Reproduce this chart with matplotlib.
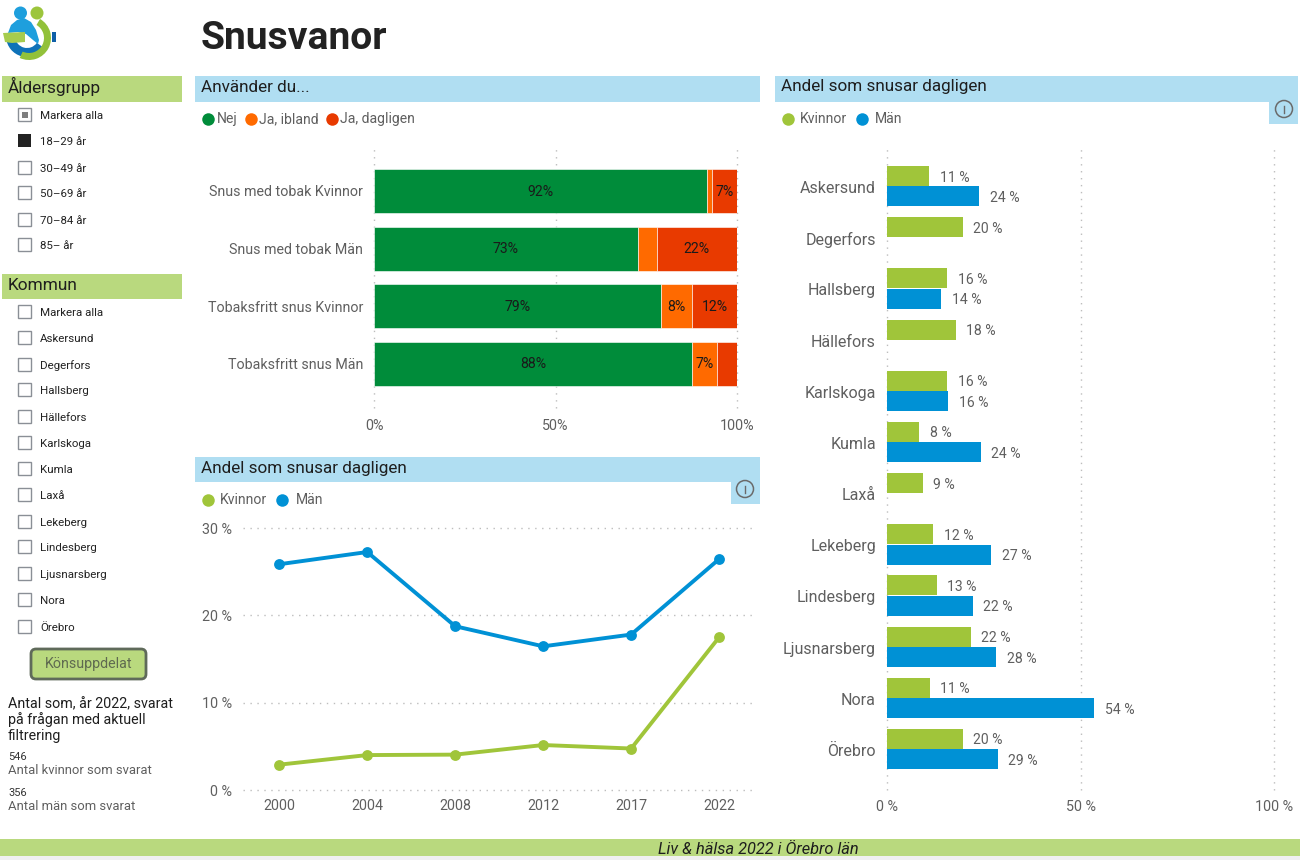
import matplotlib
matplotlib.use("Agg")
import matplotlib.pyplot as plt
from matplotlib.patches import Rectangle, FancyBboxPatch, Circle, Wedge, Polygon

plt.rcParams['font.family'] = ['Roboto', 'DejaVu Sans']

# ---------- data ----------
stack_cats = ["Snus med tobak Kvinnor", "Snus med tobak Män", "Tobaksfritt snus Kvinnor", "Tobaksfritt snus Män"]
stack_nej = [91.6, 72.7, 79.2, 87.6]
stack_ibland = [1.5, 5.2, 8.4, 7.0]
stack_dagligen = [6.9, 22.1, 12.4, 5.4]

years = ["2000", "2004", "2008", "2012", "2017", "2022"]
line_kvinnor = [2.9, 4.0, 4.05, 5.15, 4.75, 17.5]
line_man = [25.85, 27.25, 18.75, 16.45, 17.8, 26.45]

kommuner = ["Askersund", "Degerfors", "Hallsberg", "Hällefors", "Karlskoga", "Kumla", "Laxå",
            "Lekeberg", "Lindesberg", "Ljusnarsberg", "Nora", "Örebro"]
kom_kvinnor = [10.9, 19.6, 15.6, 17.8, 15.6, 8.3, 9.3, 11.9, 12.9, 21.7, 11.1, 19.6]
kom_man = [23.8, None, 14.0, None, 15.8, 24.3, None, 26.9, 22.2, 28.2, 53.6, 28.6]

age_items = ["Markera alla", "18–29 år", "30–49 år", "50–69 år", "70–84 år", "85– år"]
kommun_items = ["Markera alla"] + kommuner

# ---------- colours ----------
GREEN = "#008C3A"; ORANGE = "#FF6A00"; RED = "#E83A00"
LIME = "#A0C53A"; BLUE = "#0091D5"
HEAD_BLUE = "#B0DEF2"; HEAD_LIME = "#B9D97E"
TXT = "#5F5F5F"; DARK = "#1E1E1E"

W, H = 1300, 860
fig = plt.figure(figsize=(13, 8.6), dpi=100, facecolor="white")

def axpx(x0, y0, x1, y1, **kw):
    return fig.add_axes([x0 / W, 1 - y1 / H, (x1 - x0) / W, (y1 - y0) / H], **kw)

def PT(px):
    return px * 0.72

# overlay in pixel coordinates
ov = fig.add_axes([0, 0, 1, 1], zorder=5)
ov.set_xlim(0, W); ov.set_ylim(H, 0); ov.axis("off"); ov.patch.set_alpha(0)

def rect(x0, y0, x1, y1, c, **kw):
    ov.add_patch(Rectangle((x0, y0), x1 - x0, y1 - y0, fc=c, ec="none", **kw))

def t(x, y, s, size, c=TXT, ha="left", va="center", **kw):
    ov.text(x, y + 1, s, fontsize=PT(size), color=c, ha=ha, va=va, **kw)

# title
t(201, 37.5, "Snusvanor", 39, c="#222222", weight="bold")

# logo
rect(52, 32, 56, 42, "#0F5FA8")
ov.add_patch(Wedge((27, 36), 21, 35, 175, width=9, fc="#0F72B8", ec="none"))
ov.add_patch(Polygon([(8, 33), (11, 25), (17, 20), (24, 18), (31, 22), (36, 30), (39, 40), (38, 44),
                      (33, 40), (26, 34), (18, 32)], fc="#1E9FDD", ec="none"))
ov.add_patch(Wedge((29, 38), 22, -60, 115, width=7, fc="#92C13A", ec="none"))
ov.add_patch(Polygon([(3, 33), (25, 32), (25, 42), (12, 43), (5, 42)], fc="#A6CC4E", ec="none"))
ov.add_patch(Circle((20.5, 13), 6.5, fc="#1E9FDD", ec="none"))
ov.add_patch(Circle((37, 13), 6.5, fc="#9CC53C", ec="none"))

# slicers
rect(2, 76, 182, 102, HEAD_LIME)
t(8, 85, "Åldersgrupp", 17.3, c=DARK)
rect(2, 274, 182, 299, HEAD_LIME)
t(8, 284.5, "Kommun", 17.3, c=DARK)

def checkbox(y, state=0):
    if state == 2:
        rect(18, y - 6.5, 31, y + 6.5, "#222222")
    else:
        ov.add_patch(Rectangle((18, y - 6.5), 13, 13, fc="white", ec="#8A8F96", lw=1))
        if state == 1:
            rect(21.5, y - 3, 27.5, y + 3, "#7F7F7F")

age_y = [115, 141, 168, 193, 220, 245]
for i, (lab, y) in enumerate(zip(age_items, age_y)):
    checkbox(y - 0.5, {0: 1, 1: 2}.get(i, 0))
    t(40, y, lab, 11.5, c="#222222")

kom_y = [312, 338, 365, 390, 417, 443, 469, 495, 522, 547, 574, 600, 627]
for lab, y in zip(kommun_items, kom_y):
    checkbox(y - 0.5)
    t(40, y, lab, 11.5, c="#222222")

# button
ov.add_patch(FancyBboxPatch((31, 649), 115, 30, boxstyle="round,pad=0,rounding_size=5",
                            fc=HEAD_LIME, ec="#5F6A5A", lw=2))
t(88.5, 663, "Könsuppdelat", 14.3, c="#5F6A50", ha="center")

# counts
t(8, 703, "Antal som, år 2022, svarat", 14.3, c=DARK)
t(8, 719, "på frågan med aktuell", 14.3, c=DARK)
t(8, 735, "filtrering", 14.3, c=DARK)
t(8, 756, "546", 11, c="#333333")
t(8, 770, "Antal kvinnor som svarat", 13)
t(8, 792, "356", 11, c="#333333")
t(8, 806, "Antal män som svarat", 13)

# footer
rect(0, 839, 1300, 856, HEAD_LIME)
rect(0, 856, 1300, 860, "#F0F0F0")
t(758.5, 848, "Liv & hälsa 2022 i Örebro län", 16.4, c=DARK, ha="center", style="italic")

# section headers
rect(195, 76, 760, 102, HEAD_BLUE)
t(201, 86.5, "Använder du...", 17.1, c=DARK)
rect(195, 457, 760, 482, HEAD_BLUE)
rect(731, 482, 760, 504, HEAD_BLUE)
t(201, 467.5, "Andel som snusar dagligen", 17.1, c=DARK)
rect(775, 76, 1298, 102, HEAD_BLUE)
rect(1269, 102, 1298, 124, HEAD_BLUE)
t(781, 86, "Andel som snusar dagligen", 17.1, c=DARK)

def info(x, y):
    ov.add_patch(Circle((x, y), 8.5, fc="none", ec="#6A6A6A", lw=1.1))
    ov.plot([x, x], [y - 3, y + 4], color="#6A6A6A", lw=1)
info(745, 489)
info(1284, 109)

# legends
def legend(y, items):
    for x, tx, c, lab in items:
        ov.plot([x], [y], marker="o", ms=9, color=c, mec="none")
        t(tx, y - 1, lab, 14)

legend(119, [(208, 217, GREEN, "Nej"), (251, 259, ORANGE, "Ja, ibland"), (332, 340, RED, "Ja, dagligen")])
legend(119, [(788, 800, LIME, "Kvinnor"), (862, 875, BLUE, "Män")])
legend(500, [(208, 220, LIME, "Kvinnor"), (282, 296, BLUE, "Män")])

def clean(ax):
    for s in ax.spines.values():
        s.set_visible(False)
    ax.tick_params(length=0)
    ax.patch.set_alpha(0)

def unclip_grid(axis):
    for ln in axis.get_gridlines():
        ln.set_clip_on(False)

GRID = dict(color="#BDBDBD", lw=1, ls=(0, (1, 4)), zorder=0)

# ---------- stacked bars ----------
ax1 = axpx(374, 148, 737, 408)
clean(ax1)
ax1.set_xlim(0, 100)
srow = 57.5
ax1.set_ylim((408 - 191) / srow, (148 - 191) / srow)
ys = list(range(len(stack_cats)))
left = [0] * 4
for vals, col in [(stack_nej, GREEN), (stack_ibland, ORANGE), (stack_dagligen, RED)]:
    ax1.barh(ys, vals, left=left, height=44 / srow, color=col, edgecolor="white", linewidth=0.4, zorder=3)
    for y, v, l in zip(ys, vals, left):
        if v >= 6.5:
            ax1.text(l + v / 2, y + 0.015, f"{v:.0f}%", ha="center", va="center", fontsize=PT(14), color="#1A1A1A", zorder=4)
    left = [a + b for a, b in zip(left, vals)]
ax1.set_yticks(ys, stack_cats, fontsize=PT(14.3), color=TXT)
ax1.tick_params(axis="y", pad=8)
ax1.set_xticks([0, 50, 100], ["0%", "50%", "100%"], fontsize=PT(14.3), color=TXT)
ax1.tick_params(axis="x", pad=8)
ax1.xaxis.grid(True, **GRID)
ax1.set_axisbelow(True)
unclip_grid(ax1.xaxis)

# ---------- line chart ----------
ax2 = axpx(243, 528, 755, 790)
clean(ax2)
xs = list(range(len(years)))
ax2.set_xlim((243 - 279.2) / 88, (755 - 279.2) / 88)
ax2.set_ylim(0, 30)
ax2.plot(xs, line_kvinnor, color=LIME, lw=2.8, marker="o", ms=7.8, mec="none", zorder=3, clip_on=False)
ax2.plot(xs, line_man, color=BLUE, lw=2.8, marker="o", ms=7.8, mec="none", zorder=3, clip_on=False)
ax2.set_xticks(xs, years, fontsize=PT(14.3), color=TXT)
ax2.tick_params(axis="x", pad=6.5)
ax2.set_yticks([0, 10, 20, 30], ["0 %", "10 %", "20 %", "30 %"], fontsize=PT(14.3), color=TXT)
ax2.tick_params(axis="y", pad=8)
ax2.yaxis.grid(True, **GRID)
ax2.set_axisbelow(True)
unclip_grid(ax2.yaxis)

# ---------- municipality bars ----------
ax3 = axpx(887, 148, 1274, 790)
clean(ax3)
ax3.set_xlim(0, 100)
row = 51.18
ax3.set_ylim((790 - 187) / row, (148 - 187) / row)
ks = list(range(len(kommuner)))
bh = 20 / row
off = 0.02
for k, g, b in zip(ks, kom_kvinnor, kom_man):
    ax3.barh(k - bh / 2 - off, g, height=bh, color=LIME, zorder=3)
    ax3.text(g + 2.7, k - bh / 2 + 0.01, f"{g:.0f} %", va="center", ha="left", fontsize=PT(14), color=TXT)
    if b is not None:
        ax3.barh(k + bh / 2 - off + 0.01, b, height=bh, color=BLUE, zorder=3)
        ax3.text(b + 2.7, k + bh / 2 + 0.02, f"{b:.0f} %", va="center", ha="left", fontsize=PT(14), color=TXT)
ax3.set_yticks(ks, kommuner, fontsize=PT(16), color=TXT)
ax3.tick_params(axis="y", pad=8)
ax3.set_xticks([0, 50, 100], ["0 %", "50 %", "100 %"], fontsize=PT(14.3), color=TXT)
ax3.tick_params(axis="x", pad=7)
ax3.xaxis.grid(True, **GRID)
ax3.set_axisbelow(True)
unclip_grid(ax3.xaxis)

fig.savefig("out.png", dpi=100, facecolor="white")
